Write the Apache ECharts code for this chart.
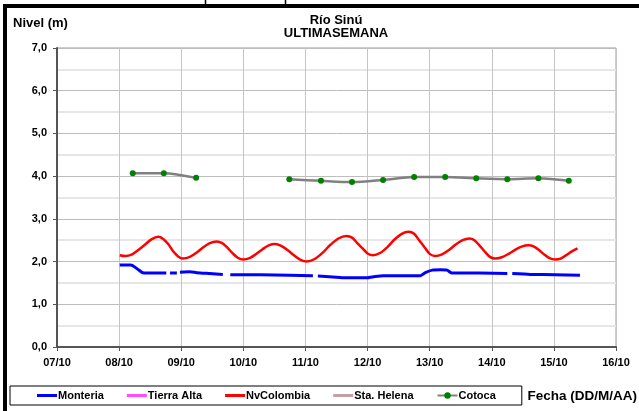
<!DOCTYPE html>
<html>
<head>
<meta charset="utf-8">
<script src="https://cdn.jsdelivr.net/npm/echarts@6/dist/echarts.min.js"></script>
<style>
  html, body { margin: 0; padding: 0; background: #fff; }
  #chart { width: 639px; height: 411px; }
</style>
</head>
<body>
<div id="chart"></div>
<script>
// Day-of-month ticks along the x axis (October)
const dayTicks = [7, 8, 9, 10, 11, 12, 13, 14, 15, 16];
const monthLabel = '10';

// Station series: x = day of October (fractional), y = level in metres (null = missing reading)
const monteriaDays  = [8.01, 8.19, 8.30, 8.38, 8.58, 8.76, 8.79, 8.82, 8.93, 8.96, 8.98, 9.14, 9.25, 9.46, 9.67, 9.72, 9.79, 10.27, 10.75, 11.12, 11.16, 11.20, 11.44, 11.64, 11.99, 12.12, 12.25, 12.85, 12.93, 13.04, 13.17, 13.28, 13.36, 13.81, 14.25, 14.29, 14.33, 14.62, 15.02, 15.42];
const monteriaLevel = [1.92, 1.92, 1.82, 1.74, 1.73, 1.73, null, 1.73, 1.73, null, 1.75, 1.76, 1.74, 1.72, 1.70, null, 1.69, 1.69, 1.68, 1.67, null, 1.66, 1.64, 1.62, 1.62, 1.65, 1.67, 1.67, 1.74, 1.80, 1.81, 1.80, 1.73, 1.73, 1.72, null, 1.72, 1.70, 1.69, 1.68];

const nvColombiaDays = [
  8.01, 8.10, 8.21, 8.31, 8.42, 8.52, 8.63, 8.71, 8.79, 8.87, 8.95,
  9.03, 9.14, 9.25, 9.35, 9.46, 9.57, 9.66, 9.74, 9.83, 9.91,
  10.00, 10.10, 10.20, 10.31, 10.41, 10.51, 10.61, 10.71, 10.82, 10.92,
  11.02, 11.15, 11.28, 11.40, 11.53, 11.66, 11.75, 11.83, 11.92, 12.00,
  12.09, 12.20, 12.32, 12.43, 12.55, 12.66, 12.75, 12.83, 12.92, 13.00,
  13.09, 13.20, 13.31, 13.42, 13.53, 13.64, 13.72, 13.80, 13.89, 13.97,
  14.05, 14.16, 14.27, 14.37, 14.48, 14.59, 14.68, 14.76, 14.85, 14.93,
  15.02, 15.11, 15.20, 15.29, 15.38
];
const nvColombiaLevel = [
  2.15, 2.13, 2.17, 2.27, 2.40, 2.52, 2.58, 2.53, 2.41, 2.24, 2.12,
  2.07, 2.11, 2.21, 2.33, 2.43, 2.47, 2.43, 2.33, 2.19, 2.09,
  2.05, 2.08, 2.17, 2.29, 2.38, 2.41, 2.37, 2.27, 2.14, 2.04,
  2.00, 2.06, 2.21, 2.39, 2.54, 2.60, 2.56, 2.44, 2.31, 2.19,
  2.15, 2.20, 2.34, 2.51, 2.65, 2.70, 2.65, 2.50, 2.33, 2.18,
  2.13, 2.17, 2.27, 2.40, 2.50, 2.54, 2.50, 2.38, 2.23, 2.11,
  2.07, 2.10, 2.18, 2.27, 2.35, 2.38, 2.35, 2.27, 2.16, 2.08,
  2.05, 2.07, 2.15, 2.24, 2.31
];

const cotocaDays  = [8.22, 8.72, 9.24, 10.00, 10.74, 11.25, 11.75, 12.25, 12.75, 13.25, 13.75, 14.25, 14.75, 15.24];
const cotocaLevel = [4.07, 4.07, 3.96, null, 3.93, 3.89, 3.86, 3.91, 3.98, 3.98, 3.95, 3.93, 3.95, 3.89];

const tierraAltaLevel = [];
const staHelenaLevel = [];

const pair = (xs, ys) => xs.map((x, i) => [x, ys[i] === null ? '-' : ys[i]]);
const fmtDay = v => (v < 10 ? '0' + v : '' + v) + '/' + monthLabel;
const FONT = 'Arial, "Liberation Sans", sans-serif';
// plain bar icon for legend entries drawn without markers
const BAR_ICON = 'path://M0,0L20,0L20,3L0,3Z';

const chart = echarts.init(document.getElementById('chart'), null, { renderer: 'canvas' });

chart.setOption({
  animation: false,
  backgroundColor: '#fff',
  title: {
    text: 'Río Sinú\nULTIMASEMANA',
    left: 336,
    top: 14,
    textAlign: 'center',
    padding: 0,
    textStyle: { fontFamily: FONT, fontSize: 13, fontWeight: 'bold', color: '#000', lineHeight: 13 }
  },
  grid: {
    left: 57, right: 23, top: 48, bottom: 64,
    show: true, borderColor: '#9a9a9a', borderWidth: 1, backgroundColor: 'transparent'
  },
  legend: {
    left: 10,
    top: 386,
    padding: [4, 26, 4, 27],
    itemGap: 23,
    itemWidth: 20,
    itemHeight: 8,
    borderColor: '#000',
    borderWidth: 1,
    borderRadius: 0,
    selectedMode: false,
    textStyle: { fontFamily: FONT, fontSize: 11, fontWeight: 'bold', color: '#000', padding: [0, 0, 0, -4] },
    data: [
      { name: 'Monteria', icon: BAR_ICON },
      { name: 'Tierra Alta', icon: BAR_ICON },
      { name: 'NvColombia', icon: BAR_ICON },
      { name: 'Sta. Helena', icon: BAR_ICON },
      { name: 'Cotoca' }
    ]
  },
  xAxis: {
    type: 'value',
    min: dayTicks[0],
    max: dayTicks[dayTicks.length - 1],
    interval: 1,
    axisLine: { show: true, lineStyle: { color: '#555', width: 2 } },
    axisTick: { show: true, length: 4, lineStyle: { color: '#555' } },
    axisLabel: {
      margin: 10,
      fontFamily: FONT, fontSize: 11, fontWeight: 'bold', color: '#000',
      formatter: fmtDay
    },
    splitLine: { show: true, lineStyle: { color: '#c4c4c4', width: 1 } }
  },
  yAxis: {
    type: 'value',
    min: 0, max: 7, interval: 1,
    axisLine: { show: true, lineStyle: { color: '#555', width: 2 } },
    axisTick: { show: true, length: 4, lineStyle: { color: '#555' } },
    minorTick: { show: false, splitNumber: 2 },
    minorSplitLine: { show: true, lineStyle: { color: '#e6e6e6', width: 2 } },
    axisLabel: {
      margin: 10,
      fontFamily: FONT, fontSize: 11, fontWeight: 'bold', color: '#000',
      formatter: v => v.toFixed(1).replace('.', ',')
    },
    splitLine: { show: true, lineStyle: { color: '#bdbdbd', width: 1 } }
  },
  series: [
    {
      name: 'Monteria', type: 'line', symbol: 'none', smooth: 0.2,
      lineStyle: { color: '#0000ff', width: 3 }, itemStyle: { color: '#0000ff' },
      data: pair(monteriaDays, monteriaLevel), z: 3
    },
    {
      name: 'Tierra Alta', type: 'line', symbol: 'none',
      lineStyle: { color: '#ff4dff', width: 2.5 }, itemStyle: { color: '#ff4dff' },
      data: tierraAltaLevel
    },
    {
      name: 'NvColombia', type: 'line', symbol: 'none', smooth: 0.3,
      lineStyle: { color: '#ff0000', width: 2.5 }, itemStyle: { color: '#ff0000' },
      data: pair(nvColombiaDays, nvColombiaLevel), z: 3
    },
    {
      name: 'Sta. Helena', type: 'line', symbol: 'none',
      lineStyle: { color: '#c4a0a0', width: 2.5 }, itemStyle: { color: '#c4a0a0' },
      data: staHelenaLevel
    },
    {
      name: 'Cotoca', type: 'line', symbol: 'circle', symbolSize: 6, smooth: 0.3,
      showAllSymbol: true,
      lineStyle: { color: '#808080', width: 2.5 }, itemStyle: { color: '#008000' },
      data: pair(cotocaDays, cotocaLevel), z: 3
    }
  ],
  graphic: [
    { type: 'line', shape: { x1: 5, y1: 4, x2: 5, y2: 411 }, style: { stroke: '#000', lineWidth: 4 } },
    { type: 'line', shape: { x1: 3, y1: 6, x2: 639, y2: 6 }, style: { stroke: '#000', lineWidth: 4 } },
    { type: 'line', shape: { x1: 205.5, y1: 0, x2: 205.5, y2: 4 }, style: { stroke: '#000', lineWidth: 1.5 } },
    { type: 'line', shape: { x1: 285.5, y1: 0, x2: 285.5, y2: 4 }, style: { stroke: '#000', lineWidth: 1.5 } },
    {
      type: 'text', x: 13, y: 23,
      style: { text: 'Nivel (m)', font: 'bold 13px ' + FONT, fill: '#000', align: 'left', verticalAlign: 'middle' }
    },
    {
      type: 'text', x: 637, y: 396,
      style: { text: 'Fecha (DD/M/AA)', font: 'bold 13.5px ' + FONT, fill: '#000', align: 'right', verticalAlign: 'middle' }
    }
  ]
});
</script>
</body>
</html>
